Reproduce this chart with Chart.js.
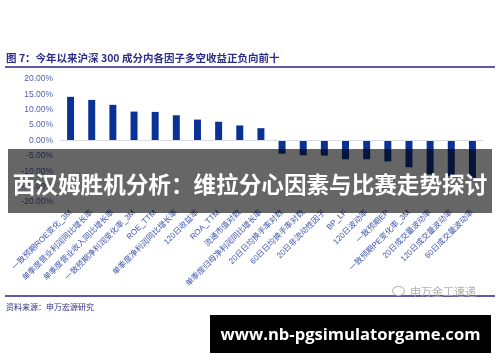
<!DOCTYPE html>
<html>
<head>
<meta charset="utf-8">
<script src="https://cdn.jsdelivr.net/npm/chart.js@4/dist/chart.umd.min.js"></script>
<style>
  html, body { margin: 0; padding: 0; background: #fff; }
  #wrap { position: relative; width: 500px; height: 362px; overflow: hidden; background: #fff; }
  #c { position: absolute; left: 0; top: 0; }
  .title { position: absolute; left: 6px; top: 50px; font: bold 10.5px "Noto Sans CJK SC", sans-serif; color: #2e2e8a; white-space: nowrap; }
  .rule { position: absolute; left: 5px; width: 490px; height: 2px; background: #5b5ba8; }
  .src { position: absolute; left: 6px; top: 301px; font: 8px "Noto Sans CJK SC", sans-serif; color: #2d2d7e; white-space: nowrap; }
  .wm { position: absolute; left: 410px; top: 283px; font: 11px "Noto Sans CJK SC", sans-serif; color: #b0b0b0; white-space: nowrap; }
  .wmicon { position: absolute; left: 392px; top: 286px; width: 11px; height: 8px; border: 1.5px solid #b8b8b8; border-radius: 50%; }
  .banner { position: absolute; left: 8px; top: 149px; width: 484px; height: 64px; background: rgba(0,0,0,0.6); }
  .banner span { position: absolute; left: -20px; right: -20px; top: 23px; text-align: center; color: #fff; font: bold 22.6px "Noto Sans CJK SC", sans-serif; line-height: 24px; white-space: nowrap; }
  .url { position: absolute; left: 210px; top: 315px; width: 281px; height: 38px; background: #000; }
  .url span { position: absolute; left: -20px; right: -20px; top: 0; text-align: center; color: #fff; font: bold 16.6px "Open Sans", sans-serif; line-height: 38px; white-space: nowrap; }
</style>
</head>
<body>
<div id="wrap">
  <canvas id="c" width="500" height="362"></canvas>
  <div class="title">图 7：今年以来沪深 300 成分内各因子多空收益正负向前十</div>
  <div class="rule" style="top:66px"></div>
  <div class="rule" style="top:295px"></div>
  <div class="src">资料来源：申万宏源研究</div>
  <div class="wmicon"></div>
  <div class="wm">申万金工速递</div>
  <div class="banner"><span>西汉姆胜机分析：维拉分心因素与比赛走势探讨</span></div>
  <div class="url"><span>www.nb-pgsimulatorgame.com</span></div>
</div>
<script>
const categories = [
  "一致预期ROE变化_3M",
  "单季度营业利润同比增长率",
  "单季度营业收入同比增长率",
  "一致预期净利润变化率_3M",
  "ROE_TTM",
  "单季度净利润同比增长率",
  "120日收益率",
  "ROA_TTM",
  "流通市值对数",
  "单季度归母净利润同比增长率",
  "20日日均换手率对数",
  "60日日均换手率对数",
  "20日非流动性因子",
  "BP_LF",
  "120日波动率",
  "一致预期EP",
  "一致预期PE变化率_3M",
  "20日成交量波动率",
  "120日成交量波动率",
  "60日成交量波动率"
];
const returns = [14.2, 13.2, 11.6, 9.4, 9.3, 8.2, 6.8, 6.1, 4.9, 4.0,
                 -4.3, -4.8, -4.9, -6.1, -6.1, -6.8, -8.7, -11.0, -11.6, -12.2];
const yTickMin = -20;
const yTickMax = 20;
const yTickStep = 5;

const FONT = '"Liberation Sans", "Noto Sans CJK SC", sans-serif';

new Chart(document.getElementById('c'), {
  type: 'bar',
  data: {
    labels: categories,
    datasets: [{
      data: returns,
      backgroundColor: '#0a3294',
      borderWidth: 0,
      categoryPercentage: 1.0,
      barPercentage: 0.33
    }]
  },
  options: {
    responsive: false,
    animation: false,
    devicePixelRatio: 1,
    layout: { padding: { top: 79, right: 17, left: 0, bottom: 60 } },
    plugins: { legend: { display: false }, tooltip: { enabled: false } },
    scales: {
      x: {
        grid: { display: false, drawTicks: false },
        border: { display: false },
        ticks: {
          autoSkip: false,
          maxRotation: 45,
          minRotation: 45,
          padding: 6,
          color: '#3f55ae',
          font: { family: FONT, size: 8 }
        },
        afterFit: s => { s.height = 100; }
      },
      y: {
        min: yTickMin,
        max: yTickMax,
        grid: {
          drawTicks: false,
          color: c => (c.tick && c.tick.value === 0) ? '#dcdde8' : 'rgba(0,0,0,0)',
          lineWidth: 1
        },
        border: { display: false },
        ticks: {
          stepSize: yTickStep,
          padding: 7,
          color: '#4f5fa6',
          font: { family: FONT, size: 8.5 },
          callback: v => v.toFixed(2) + '%'
        },
        afterFit: s => { s.width = 60; }
      }
    }
  }
});
</script>
</body>
</html>
